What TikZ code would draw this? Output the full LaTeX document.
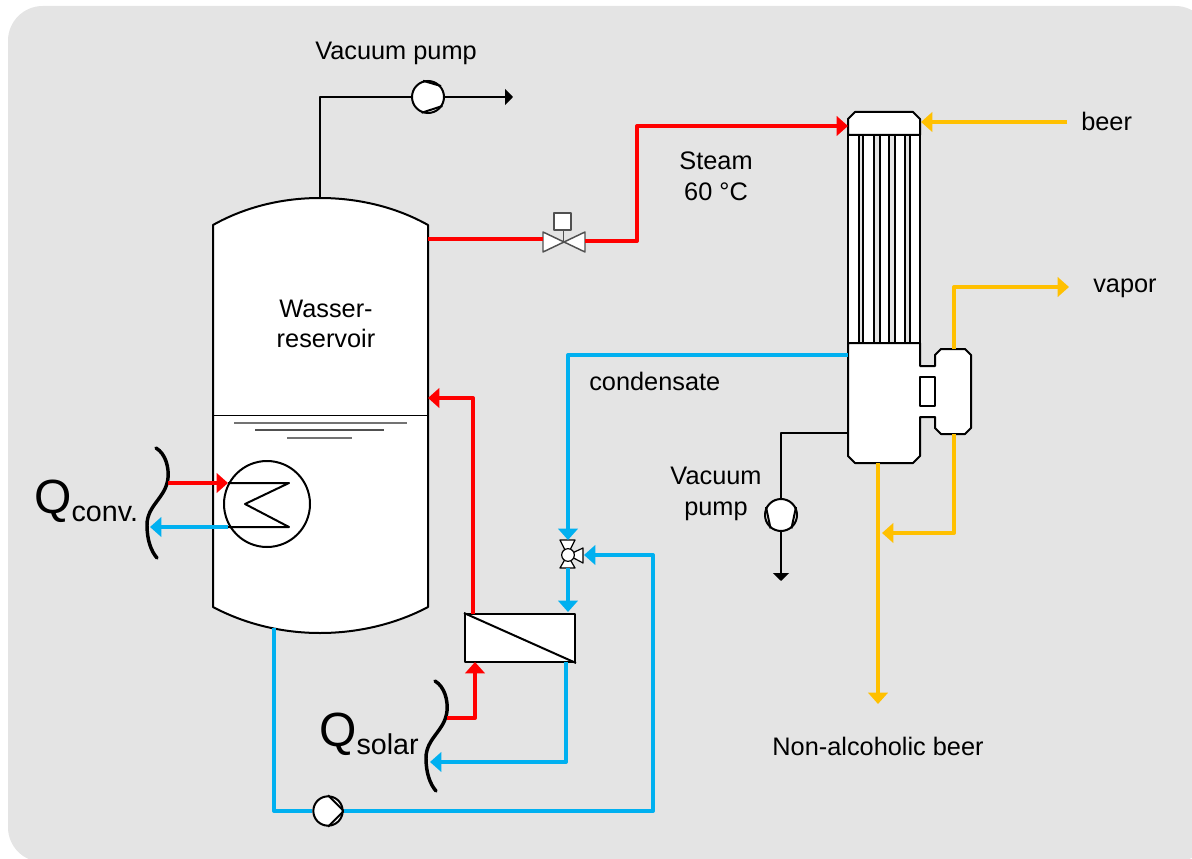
\documentclass[tikz,border=0pt]{standalone}
\usepackage{fontspec}
\usepackage{xcolor}
\setmainfont{Liberation Sans}
\usetikzlibrary{arrows.meta}
\definecolor{panelgray}{HTML}{E4E4E4}
\definecolor{steamred}{HTML}{FF0000}
\definecolor{waterblue}{HTML}{00B0F0}
\definecolor{beeryellow}{HTML}{FFC000}
\definecolor{valvegray}{HTML}{505050}
\tikzset{
  pipe/.style={line width=3pt, line join=round, -{Triangle[length=8.5pt,width=14.5pt]}},
  plainpipe/.style={line width=3pt, line join=round},
  gasline/.style={black, line width=1.5pt, line join=round},
  unit/.style={draw=black, fill=white, line width=1.5pt, line join=round},
  pump/.style={circle, draw=black, fill=white, line width=1.5pt, inner sep=0pt, minimum size=#1},
  valvepart/.style={draw=valvegray, fill=white, line width=1.1pt, line join=round},
  label/.style={font=\fontsize{19}{23}\selectfont, align=center, inner sep=0pt},
  wave/.style={black, line width=2.6pt, line cap=round}
}
\begin{document}
\begin{tikzpicture}[x=0.75pt, y=-0.75pt]
  \useasboundingbox (0,0) rectangle (1192,859);
  \clip (0,0) rectangle (1192,859);
  \fill[panelgray, rounded corners=26pt] (8,6) rectangle (1210,862);

  % tank
  \draw[unit] (213,225) .. controls (245,207) and (282,198) .. (320,198)
    .. controls (358,198) and (396,207) .. (428,225) -- (428,607)
    .. controls (396,624) and (358,633) .. (320,633)
    .. controls (282,633) and (245,624) .. (213,607) -- cycle;
  \draw[black, line width=0.7pt] (213,415) -- (428,415);
  \draw[valvegray!80, line width=1.5pt] (234,423) -- (407,423);
  \draw[valvegray, line width=1pt] (255,430) -- (384,430);
  \draw[valvegray!80, line width=1.5pt] (287,438) -- (352,438);
  \coordinate (tanktop) at (320,198);
  \coordinate (tanksteam) at (428,239);
  \coordinate (tankreturn) at (428,398);
  \coordinate (tankdrain) at (274,628);

  % heat exchanger
  \node[pump=64.5pt] (hx) at (267,504) {};
  \coordinate (hxin) at (228,483);
  \coordinate (hxout) at (228,527);
  \draw[gasline] (hxin) -- (289,483) -- (245,504) -- (289,527) -- (hxout);

  % evaporator
  \draw[unit] (848,119) -- (855,112) -- (913,112) -- (920,119) -- (920,135) -- (848,135) -- cycle;
  \draw[unit] (848,135) rectangle (920,343);
  \foreach \xa/\xb in {859/863, 874/880, 889/895, 905/910} {
    \draw[black, line width=1.2pt, fill=panelgray] (\xa,135) rectangle (\xb,343);
  }
  \draw[unit] (848,343) -- (920,343) -- (920,366) -- (935,366) -- (935,355) -- (941,349)
    -- (965,349) -- (971,355) -- (971,428) -- (965,434) -- (941,434) -- (935,428)
    -- (935,417) -- (920,417) -- (920,456) -- (913,463) -- (855,463) -- (848,456) -- cycle;
  \draw[unit] (920,377) rectangle (935,406);
  \coordinate (headsteam) at (848,126);
  \coordinate (headbeer) at (921,122);
  \coordinate (bodycond) at (848,355);
  \coordinate (bodyvac) at (848,433);
  \coordinate (bodyout) at (878,463);
  \coordinate (sepvapor) at (954,349);
  \coordinate (sepliquid) at (954,434);

  % steam valve
  \draw[valvepart] (543,232) -- (585,252) -- (585,232) -- (543,252) -- cycle;
  \draw[valvepart] (563.5,242) -- (563.5,230);
  \node[valvepart, inner sep=0pt, minimum size=12.5pt] (actuator) at (562.5,221.5) {};
  \coordinate (valvein) at (543,239);
  \coordinate (valveout) at (585,241);

  % three-way valve
  \draw[valvepart, draw=black, line width=0.9pt] (560,540) -- (575,540) -- (567.5,555) -- (575,568) -- (560,568) -- (567.5,555) -- cycle;
  \draw[valvepart, draw=black, line width=0.9pt] (568,555) -- (583,548) -- (583,563) -- cycle;
  \node[pump=9.5pt, line width=0.9pt] (mixvalve) at (568,555) {};
  \coordinate (mixtop) at (568,540);
  \coordinate (mixright) at (584,555);
  \coordinate (mixbottom) at (568,568);

  % solar exchanger
  \node[unit, inner sep=0pt, minimum width=82.5pt, minimum height=36pt] (solarbox) at (520,638) {};
  \draw[gasline] (solarbox.north west) -- (solarbox.south east);
  \coordinate (solarredout) at (473,614);
  \coordinate (solarredin) at (475,662);
  \coordinate (solarbluein) at (568,612);
  \coordinate (solarblueout) at (566,662);

  % pumps
  \node[pump=24pt] (pumptop) at (428,97) {};
  \draw[gasline] (pumptop.107) -- (pumptop.40);
  \draw[gasline] (pumptop.-112) -- (pumptop.-32);
  \node[pump=24pt] (pumpvac) at (781,515) {};
  \draw[gasline] (pumpvac.152) -- (pumpvac.-128);
  \draw[gasline] (pumpvac.28) -- (pumpvac.-52);
  \node[pump=22pt] (pumploop) at (328,811) {};
  \draw[gasline] (pumploop.90) -- (pumploop.0) -- (pumploop.-90);

  % heat input
  \draw[wave] (156,448) .. controls (166,454) and (169,468) .. (168,478)
    .. controls (166,498) and (147,505) .. (147,525) .. controls (147,540) and (151,551) .. (157,558);
  \draw[wave, xshift=209.25pt, yshift=-174.75pt] (156,448) .. controls (166,454) and (169,468) .. (168,478)
    .. controls (166,498) and (147,505) .. (147,525) .. controls (147,540) and (151,551) .. (157,558);
  \coordinate (waveconvin) at (168,483);
  \coordinate (waveconvout) at (150,527);
  \coordinate (wavesolarin) at (447,718);
  \coordinate (wavesolarout) at (430,762);

  % black lines
  \draw[gasline] (tanktop) -- (320,97) -- (pumptop.west);
  \coordinate (ventend) at (513,97);
  \draw[gasline, -{Triangle[length=6pt,width=12pt]}] (pumptop.east) -- (ventend);
  \draw[gasline] (bodyvac) -| (pumpvac.north);
  \coordinate (vacend) at (781,581);
  \draw[gasline, -{Triangle[length=6pt,width=12pt]}] (pumpvac.south) -- (vacend);

  % steam
  \draw[plainpipe, steamred] (tanksteam) -- (valvein);
  \draw[pipe, steamred] (valveout) -- (637,241) -- (637,126) -- (headsteam);
  \draw[pipe, steamred] (solarredout) -- (473,398) -- (tankreturn);
  \draw[pipe, steamred] (wavesolarin) -| (solarredin);
  \draw[pipe, steamred] (waveconvin) -- (hxin);

  % water
  \draw[pipe, waterblue] (hxout) -- (waveconvout);
  \draw[pipe, waterblue] (bodycond) -| (mixtop);
  \draw[pipe, waterblue] (mixbottom) -- (solarbluein);
  \draw[pipe, waterblue] (solarblueout) |- (wavesolarout);
  \draw[plainpipe, waterblue] (tankdrain) |- (pumploop.west);
  \draw[pipe, waterblue] (pumploop.east) -- (653,811) -- (653,555) -- (mixright);

  % beer
  \coordinate (beerin) at (1067,122);
  \coordinate (vaporout) at (1069,287);
  \coordinate (recycle) at (882,533);
  \coordinate (productout) at (878,704);
  \draw[pipe, beeryellow] (beerin) -- (headbeer);
  \draw[pipe, beeryellow] (sepvapor) |- (vaporout);
  \draw[pipe, beeryellow] (sepliquid) |- (recycle);
  \draw[pipe, beeryellow] (bodyout) -- (productout);

  % labels
  \node[label] (lblpumptop) at (396,53) {Vacuum pump};
  \node[label] (lblsteam) at (716,176) {Steam\\60 °C};
  \node[label, anchor=west] (lblbeer) at (1081,121) {beer};
  \node[label, anchor=west] (lblvapor) at (1093,288) {vapor};
  \node[label] (lbltank) at (326,324) {Wasser-\\reservoir};
  \node[label, anchor=west] (lblcond) at (589,381) {condensate};
  \node[label] (lblpumpvac) at (716,494) {Vacuum\\pump};
  \node[label] (lblproduct) at (878,746) {Non-alcoholic beer};
  \node[anchor=base west, inner sep=0pt] (lblqconv) at (34,513) {\fontsize{36}{36}\selectfont Q\raisebox{-6pt}{\fontsize{21.5}{21.5}\selectfont conv.}};
  \node[anchor=base west, inner sep=0pt] (lblqsolar) at (319,746) {\fontsize{36}{36}\selectfont Q\raisebox{-6pt}{\fontsize{21.5}{21.5}\selectfont solar}};
\end{tikzpicture}
\end{document}
